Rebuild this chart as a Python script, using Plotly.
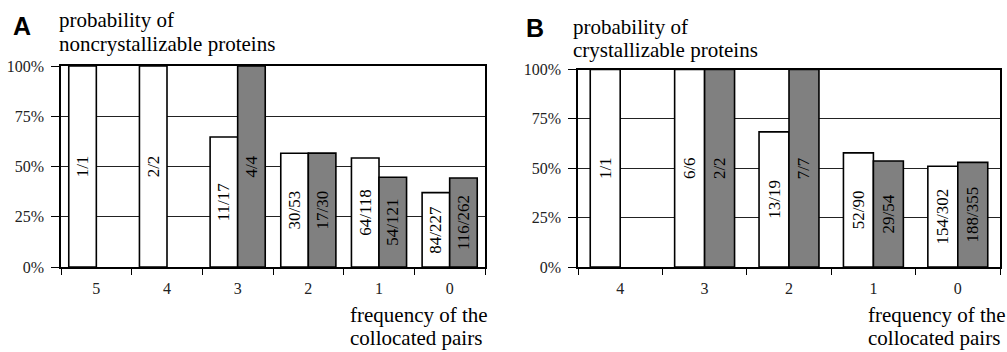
import plotly.graph_objects as go

# ---------------- data ----------------
cats_a = ["5", "4", "3", "2", "1", "0"]
white_num_a = [1, 2, 11, 30, 64, 84]
white_den_a = [1, 2, 17, 53, 118, 227]
grey_num_a = [None, None, 4, 17, 54, 116]
grey_den_a = [None, None, 4, 30, 121, 262]

cats_b = ["4", "3", "2", "1", "0"]
white_num_b = [1, 6, 13, 52, 154]
white_den_b = [1, 6, 19, 90, 302]
grey_num_b = [None, 2, 7, 29, 188]
grey_den_b = [None, 2, 7, 54, 355]

y_ticks = [0, 0.25, 0.5, 0.75, 1.0]


def ratios(num, den):
    return [None if n is None else n / d for n, d in zip(num, den)]


def labels(num, den):
    return ["" if n is None else f"{n}/{d}" for n, d in zip(num, den)]


W, H = 1007, 352
SERIF = "Liberation Serif"


def px_x(p):
    return p / W


def px_y(p):
    return 1 - p / H


fig = go.Figure()

panels = [
    dict(cats=cats_a, wn=white_num_a, wd=white_den_a, gn=grey_num_a, gd=grey_den_a,
         xa="x", ya="y", bw=0.39),
    dict(cats=cats_b, wn=white_num_b, wd=white_den_b, gn=grey_num_b, gd=grey_den_b,
         xa="x2", ya="y2", bw=0.355),
]

for p in panels:
    for num, den, color, off in [(p["wn"], p["wd"], "white", -p["bw"]),
                                 (p["gn"], p["gd"], "#808080", 0)]:
        fig.add_trace(go.Bar(
            x=p["cats"], y=ratios(num, den), text=labels(num, den),
            xaxis=p["xa"], yaxis=p["ya"],
            width=p["bw"], offset=off,
            marker=dict(color=color, line=dict(color="black", width=1.6)),
            textposition="inside", insidetextanchor="middle", textangle=-90,
            textfont=dict(family=SERIF, size=17, color="black"),
            constraintext="none", cliponaxis=False, showlegend=False,
            hoverinfo="skip",
        ))

ydom_a = [px_y(267), px_y(66)]
ydom_b = [px_y(267), px_y(69.5)]
xdom_a = [px_x(61), px_x(485)]
xdom_b = [px_x(578), px_x(1000)]

tickfont = dict(family=SERIF, size=16, color="#222")


def xaxis_main(dom, anchor):
    return dict(domain=dom, anchor=anchor, type="category", tickson="boundaries",
                ticks="outside", ticklen=6, tickwidth=1.2, tickcolor="black",
                showline=True, linecolor="black", linewidth=1.5, mirror=True,
                showgrid=False, tickfont=tickfont, ticklabelstandoff=6,
                automargin=False, fixedrange=True)


def xaxis_ticks(overlay, anchor, n):
    return dict(overlaying=overlay, anchor=anchor, type="linear",
                range=[-0.5, n - 0.5], tickvals=[k - 0.5 for k in range(n + 1)],
                ticks="inside", ticklen=4, tickwidth=1.2, tickcolor="black",
                showticklabels=False, showgrid=False, showline=False,
                zeroline=False, side="bottom", automargin=False)


def yaxis_main(dom, anchor):
    return dict(domain=dom, anchor=anchor, range=[0, 1], tickvals=y_ticks,
                tickformat=".0%", ticks="outside", ticklen=8, tickwidth=1.2,
                tickcolor="black", showline=True, linecolor="black",
                linewidth=1.5, mirror=True, showgrid=True, gridcolor="#222",
                gridwidth=1, zeroline=False, tickfont=tickfont,
                ticklabelstandoff=4, automargin=False, fixedrange=True)


fig.update_layout(
    template="none",
    width=W, height=H,
    margin=dict(l=0, r=0, t=0, b=0, pad=0),
    paper_bgcolor="white", plot_bgcolor="white",
    barmode="overlay",
    xaxis=xaxis_main(xdom_a, "y"),
    yaxis=yaxis_main(ydom_a, "x"),
    xaxis2=xaxis_main(xdom_b, "y2"),
    yaxis2=yaxis_main(ydom_b, "x2"),
    xaxis3=xaxis_ticks("x", "y", len(cats_a)),
    xaxis4=xaxis_ticks("x2", "y2", len(cats_b)),
)

title_font = dict(family=SERIF, size=21, color="black")
annots = [
    ("<b>A</b>", 22, 26, "center", dict(family="Liberation Sans", size=25, color="black")),
    ("<b>B</b>", 535, 28, "center", dict(family="Liberation Sans", size=25, color="black")),
    ("probability of", 58, 20, "left", title_font),
    ("noncrystallizable proteins", 58, 44, "left", title_font),
    ("probability of", 572, 26.5, "left", title_font),
    ("crystallizable proteins", 572, 50.5, "left", title_font),
    ("frequency of the", 349, 315, "left", title_font),
    ("collocated pairs", 349, 338, "left", title_font),
    ("frequency of the", 867, 315, "left", title_font),
    ("collocated pairs", 867, 338, "left", title_font),
]
for text, x, y, anchor, font in annots:
    fig.add_annotation(text=text, x=px_x(x), y=px_y(y), xref="paper", yref="paper",
                       xanchor=anchor, yanchor="middle", showarrow=False,
                       font=font, borderpad=0)

fig.write_html(
    "out.html",
    config={"displayModeBar": False},
    post_script="document.body.style.margin='0';document.body.style.overflow='hidden';",
)
